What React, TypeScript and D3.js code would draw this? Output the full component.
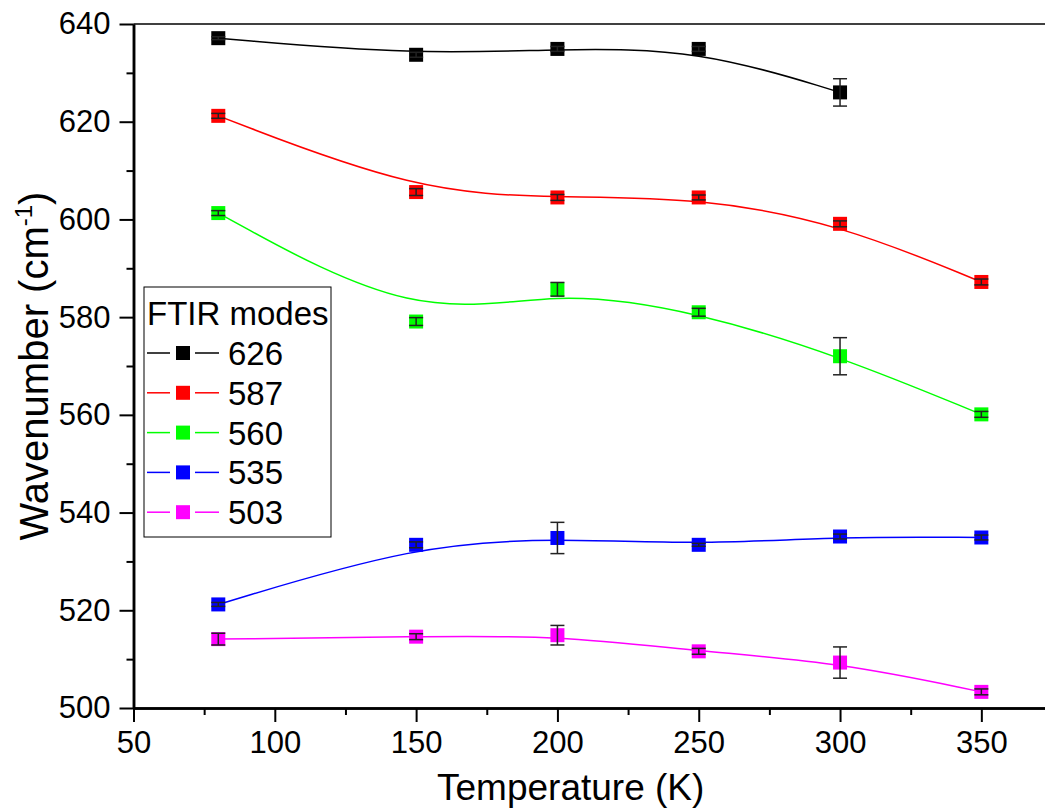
import React, { useEffect, useRef } from 'react';
import * as d3 from 'd3';

const temperatures = [80, 150, 200, 250, 300, 350];
const modeNames = ['626', '587', '560', '535', '503'];
const modeColors = ['#000000', '#ff0000', '#00ff00', '#0000ff', '#ff00ff'];

const mode626 = [637.1, 633.7, 634.9, 634.9, 626.0];
const mode626Err = [0.3, 0.5, 0.5, 0.5, 2.8];
const mode587 = [621.2, 605.6, 604.5, 604.5, 599.1, 587.2];
const mode587Err = [0.5, 0.7, 0.6, 0.5, 0.6, 0.6];
const mode560 = [601.3, 579.1, 585.7, 581.0, 572.0, 560.1];
const mode560Err = [0.5, 0.8, 1.4, 0.8, 3.8, 0.6];
const mode535 = [521.2, 533.4, 534.8, 533.4, 535.1, 534.9];
const mode535Err = [0.4, 0.6, 3.2, 0.3, 0.5, 0.5];
const mode503 = [514.1, 514.6, 514.9, 511.6, 509.3, 503.3];
const mode503Err = [1.2, 0.6, 2.0, 0.6, 3.2, 0.6];

const xTicks = [50, 100, 150, 200, 250, 300, 350];
const yTicks = [500, 520, 540, 560, 580, 600, 620, 640];

const width = 1045;
const height = 812;
const FONT = 'Liberation Sans, Arial, sans-serif';

const App: React.FC = () => {
  const svgRef = useRef<SVGSVGElement>(null);

  useEffect(() => {
    if (!svgRef.current) return;
    const svg = d3.select(svgRef.current);
    svg.selectAll('*').remove();

    const left = 133.5, top = 24, bottom = 708, right = 1052;

    const x = d3.scaleLinear().domain([50, 375]).range([left, right]);
    const y = d3.scaleLinear().domain([500, 640]).range([bottom, top]);

    const series = [
      { values: mode626, err: mode626Err },
      { values: mode587, err: mode587Err },
      { values: mode560, err: mode560Err },
      { values: mode535, err: mode535Err },
      { values: mode503, err: mode503Err },
    ].map((s, i) => ({
      name: modeNames[i],
      color: modeColors[i],
      points: s.values.map((v, j) => ({ t: temperatures[j], v, e: s.err[j] })),
    }));

    // top frame line
    svg.append('line')
      .attr('x1', left).attr('x2', right)
      .attr('y1', top).attr('y2', top)
      .attr('stroke', '#000').attr('stroke-width', 1.5);

    // smoothed curves (B-spline, does not pass through inner points)
    const line = d3.line<any>()
      .x(d => x(d.t))
      .y(d => y(d.v))
      .curve(d3.curveBasis);

    series.forEach(s => {
      svg.append('path')
        .datum(s.points)
        .attr('fill', 'none')
        .attr('stroke', s.color)
        .attr('stroke-width', 1.5)
        .attr('d', line);
    });

    // markers
    const ms = 14;
    series.forEach(s => {
      svg.append('g').selectAll('rect')
        .data(s.points)
        .enter().append('rect')
        .attr('x', d => x(d.t) - ms / 2)
        .attr('y', d => y(d.v) - ms / 2)
        .attr('width', ms)
        .attr('height', ms)
        .attr('fill', s.color);
    });

    // error bars
    series.forEach(s => {
      const g = svg.append('g')
        .attr('stroke', '#222')
        .attr('stroke-width', 1.5);
      s.points.forEach(d => {
        const cx = x(d.t);
        g.append('line')
          .attr('x1', cx).attr('x2', cx)
          .attr('y1', y(d.v - d.e)).attr('y2', y(d.v + d.e));
        [d.v - d.e, d.v + d.e].forEach(v => {
          g.append('line')
            .attr('x1', cx - ms / 2).attr('x2', cx + ms / 2)
            .attr('y1', y(v)).attr('y2', y(v));
        });
      });
    });

    // axes
    const xAxis = svg.append('g')
      .attr('transform', `translate(0, ${bottom})`)
      .call(d3.axisBottom(x).tickValues(xTicks).tickSize(14).tickSizeOuter(0).tickPadding(9));
    const xMinor = svg.append('g')
      .attr('transform', `translate(0, ${bottom})`)
      .call(d3.axisBottom(x).tickValues(d3.range(75, 376, 50)).tickSize(7).tickSizeOuter(0).tickFormat(() => ''));
    const yAxis = svg.append('g')
      .attr('transform', `translate(${left}, 0)`)
      .call(d3.axisLeft(y).tickValues(yTicks).tickSize(14).tickSizeOuter(0).tickPadding(9));
    const yMinor = svg.append('g')
      .attr('transform', `translate(${left}, 0)`)
      .call(d3.axisLeft(y).tickValues(d3.range(510, 640, 20)).tickSize(7).tickSizeOuter(0).tickFormat(() => ''));

    [xAxis, xMinor, yAxis, yMinor].forEach(a => {
      a.select('.domain').attr('stroke', '#000').attr('stroke-width', 2.5);
      a.selectAll('.tick line').attr('stroke', '#000').attr('stroke-width', 2);
      a.selectAll('.tick text')
        .attr('fill', '#000')
        .style('font-family', FONT)
        .style('font-size', '31px');
    });

    // axis titles
    svg.append('text')
      .attr('x', 437)
      .attr('y', 800)
      .style('font-family', FONT)
      .style('font-size', '37px')
      .text('Temperature (K)');

    const yt = svg.append('text')
      .attr('transform', `translate(48, ${(top + bottom) / 2}) rotate(-90)`)
      .attr('text-anchor', 'middle')
      .style('font-family', FONT)
      .style('font-size', '40px');
    yt.append('tspan').text('Wavenumber (cm');
    yt.append('tspan').attr('dy', -16).style('font-size', '24px').text('-1');
    yt.append('tspan').attr('dy', 16).text(')');

    // legend
    const lg = svg.append('g').attr('transform', 'translate(144, 287)');
    lg.append('rect')
      .attr('width', 187).attr('height', 250)
      .attr('fill', '#fff').attr('stroke', '#000').attr('stroke-width', 1);
    lg.append('text')
      .attr('x', 3).attr('y', 38)
      .style('font-family', FONT)
      .style('font-size', '33px')
      .text('FTIR modes');
    series.forEach((s, i) => {
      const cy = 66 + i * 39.8;
      lg.append('line')
        .attr('x1', 3).attr('x2', 26).attr('y1', cy).attr('y2', cy)
        .attr('stroke', s.color).attr('stroke-width', 1.5);
      lg.append('line')
        .attr('x1', 51).attr('x2', 75).attr('y1', cy).attr('y2', cy)
        .attr('stroke', s.color).attr('stroke-width', 1.5);
      lg.append('rect')
        .attr('x', 39 - ms / 2).attr('y', cy - ms / 2)
        .attr('width', ms).attr('height', ms)
        .attr('fill', s.color);
      lg.append('text')
        .attr('x', 84).attr('y', cy + 12)
        .style('font-family', FONT)
        .style('font-size', '33px')
        .text(s.name);
    });
  }, []);

  return (
    <svg
      ref={svgRef}
      width={width}
      height={height}
      style={{ position: 'absolute', left: 0, top: 0, background: '#fff' }}
    />
  );
};

export default App;
